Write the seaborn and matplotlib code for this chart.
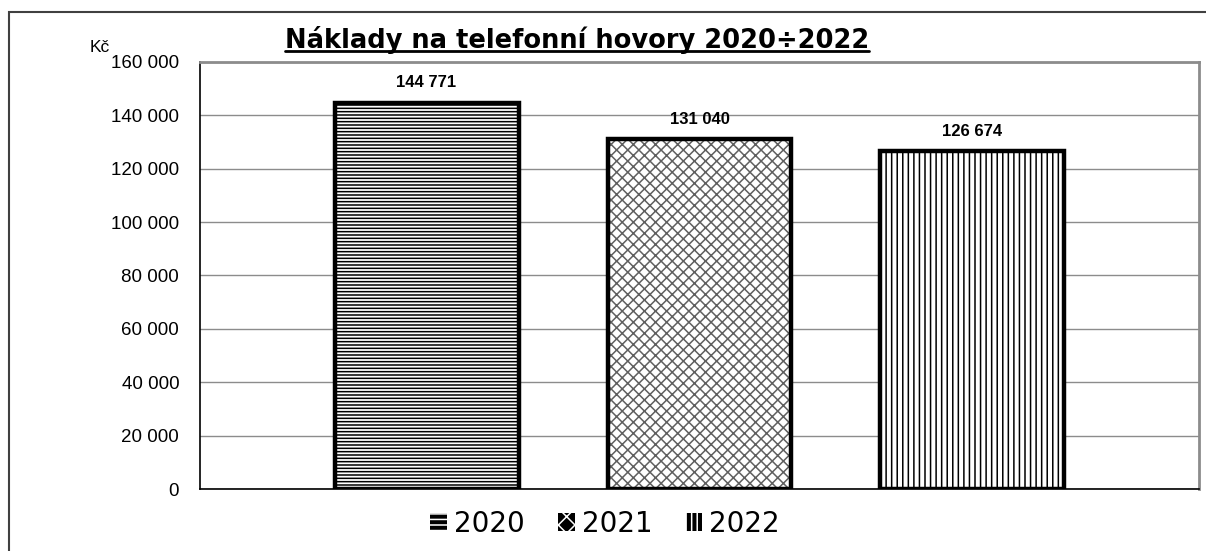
import matplotlib
matplotlib.use("Agg")
import matplotlib.pyplot as plt
import matplotlib.ticker as mticker
from matplotlib.patches import Rectangle, Patch
from matplotlib.lines import Line2D
import pandas as pd
import seaborn as sns

# data
years = ["2020", "2021", "2022"]
costs = [144771, 131040, 126674]
hatches = ["-----", "xxx", "|||"]
legend_hatches = ["---", "xx", "|||"]
title = "Náklady na telefonní hovory 2020÷2022"
unit = "Kč"

df = pd.DataFrame({"rok": years, "naklady": costs})

sns.set_style("white")
plt.rcParams["font.family"] = ["Liberation Sans", "DejaVu Sans"]
plt.rcParams["hatch.linewidth"] = 1.1
plt.rcParams["text.color"] = "black"
plt.rcParams["xtick.color"] = "black"
plt.rcParams["ytick.color"] = "black"

fig = plt.figure(figsize=(12.06, 5.51), dpi=100)
ax = fig.add_axes([200 / 1206, 1 - 489 / 551, 999 / 1206, 427 / 551])

sns.barplot(data=df, x="rok", y="naklady", hue="rok", palette=["white"] * 3,
            edgecolor="black", linewidth=3, width=0.674, legend=False, ax=ax, zorder=3)

# hatch patterns + black outline on top
bars = list(ax.patches)
for patch, h, yr in zip(bars, hatches, years):
    patch.set_hatch(h)
    patch.set_linewidth(0)
    if yr == "2021":
        patch.set_edgecolor("#606060")
    ax.add_patch(Rectangle(patch.get_xy(), patch.get_width(), patch.get_height(),
                           fill=False, edgecolor="black", linewidth=3.2, zorder=4))

# value labels
for patch, v in zip(bars, costs):
    ax.annotate(f"{v:,}".replace(",", " "),
                (patch.get_x() + patch.get_width() / 2, patch.get_height()),
                xytext=(0, 11), textcoords="offset points", ha="center", va="baseline",
                fontsize=12, fontweight="bold", color="black")

ax.set_ylim(0, 160000)
ax.set_xlim(-0.83, 2.83)
ax.yaxis.set_major_locator(mticker.MultipleLocator(20000))
ax.yaxis.set_major_formatter(mticker.FuncFormatter(lambda v, p: f"{int(v):,}".replace(",", " ")))
ax.set_xticks([-0.83, 2.83], labels=["", ""])
ax.tick_params(axis="both", direction="inout", length=10, width=1, colors="black",
               labelsize=13.5, pad=10)
ax.grid(axis="y", color="#8c8c8c", linewidth=1, zorder=0)
ax.set_axisbelow(True)
ax.set_xlabel("")
ax.set_ylabel("")

for side in ["left", "bottom"]:
    ax.spines[side].set_color("black")
    ax.spines[side].set_linewidth(1.2)
for side in ["top", "right"]:
    ax.spines[side].set_color("#8c8c8c")
    ax.spines[side].set_linewidth(2)

# title with underline
t = fig.text(577 / 1206, 1 - 48 / 551, title, ha="center", va="baseline",
             fontsize=18.5, fontweight="bold", family="DejaVu Sans", color="black")
fig.canvas.draw()
bb = t.get_window_extent().transformed(fig.transFigure.inverted())
uy = 1 - 51 / 551
fig.add_artist(Line2D([bb.x0, bb.x1], [uy, uy], color="black", linewidth=2, transform=fig.transFigure))

fig.text(90 / 1206, 1 - 52 / 551, unit, ha="left", va="baseline", fontsize=12.5, color="black")

# legend: black squares with white pattern
handles = [Patch(facecolor="black", edgecolor="white", hatch=h, linewidth=0) for h in legend_hatches]
ax.legend(handles=handles, labels=years, loc="center", bbox_to_anchor=(605 / 1206, 1 - 524 / 551),
          bbox_transform=fig.transFigure, ncol=3, frameon=False,
          prop={"family": "DejaVu Sans", "size": 20}, labelcolor="black",
          handlelength=0.6, handleheight=0.6, handletextpad=0.25, columnspacing=1.2)

# outer chart border
fig.add_artist(Rectangle((9 / 1206, -0.1), 1.2, 1 - 12 / 551 + 0.1, fill=False,
                         edgecolor="#404040", linewidth=1.5, transform=fig.transFigure))

fig.savefig("out.png", dpi=100)
